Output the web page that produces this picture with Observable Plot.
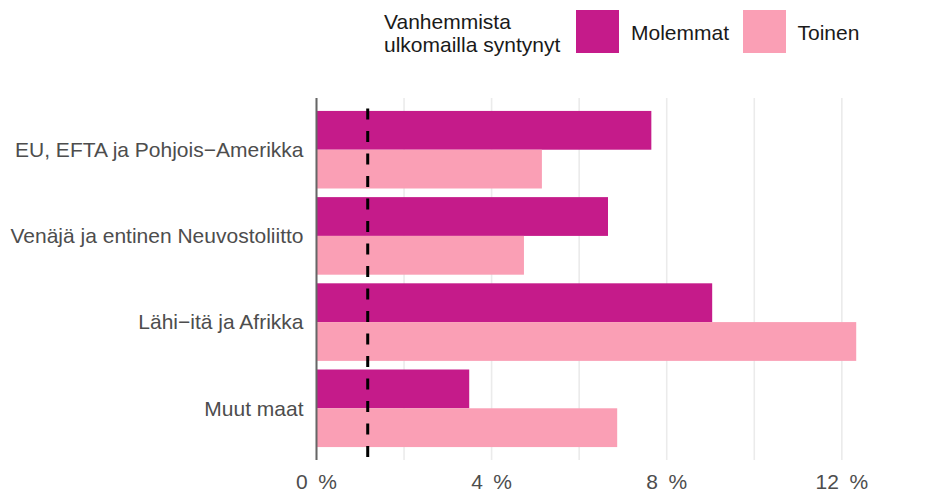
<!DOCTYPE html>
<html>
<head>
<meta charset="utf-8">
<script src="https://cdn.jsdelivr.net/npm/d3@7"></script>
<script src="https://cdn.jsdelivr.net/npm/@observablehq/plot@0.6"></script>
<style>
  body { margin: 0; background: #fff; font-family: "Liberation Sans", Arial, sans-serif; }
  #legend { position: relative; width: 927px; height: 70px; }
  #legend .title { position: absolute; left: 384px; top: 10px; font-size: 21px; line-height: 23px; color: #1a1a1a; white-space: nowrap; }
  #legend .sw { position: absolute; top: 10px; width: 43px; height: 43px; }
  #legend .lab { position: absolute; top: 20.5px; font-size: 21px; line-height: 23px; color: #1a1a1a; white-space: nowrap; }
</style>
</head>
<body>
<div id="legend"></div>
<div id="chart"></div>
<script>
const regions = ["EU, EFTA ja Pohjois−Amerikka", "Venäjä ja entinen Neuvostoliitto", "Lähi−itä ja Afrikka", "Muut maat"];
const series = ["Molemmat", "Toinen"];
const seriesColors = ["#c51b8a", "#fa9fb5"];
const molemmat = [7.66, 6.67, 9.05, 3.50];
const toinen = [5.16, 4.75, 12.34, 6.88];
const referenceValue = 1.17;
const xTicks = [0, 4, 8, 12];
const gridTicks = [0, 2, 4, 6, 8, 10, 12];
const legendTitle = ["Vanhemmista", "ulkomailla syntynyt"];

const data = regions.flatMap((r, i) => [
  {region: r, series: series[0], value: molemmat[i]},
  {region: r, series: series[1], value: toinen[i]}
]);

// Legend (HTML, above the SVG)
const legend = document.getElementById("legend");
const t = document.createElement("div");
t.className = "title";
t.innerHTML = legendTitle.join("<br>");
legend.appendChild(t);
const swLeft = [576, 743];
const labLeft = [631, 797.5];
series.forEach((s, i) => {
  const sw = document.createElement("div");
  sw.className = "sw";
  sw.style.left = swLeft[i] + "px";
  sw.style.background = seriesColors[i];
  legend.appendChild(sw);
  const lb = document.createElement("div");
  lb.className = "lab";
  lb.style.left = labLeft[i] + "px";
  lb.textContent = s;
  legend.appendChild(lb);
});

const W = 927, H = 422, mt = 28, mb = 32, ml = 316, mr = 20;
const frameH = H - mt - mb;
const pInner = 0.1, pOuter = 0.15;
const step = frameH / (regions.length - pInner + 2 * pOuter);
const half = step * (1 - pInner) / 2;

const chart = Plot.plot({
  width: W,
  height: H,
  marginTop: mt,
  marginBottom: mb,
  marginLeft: ml,
  marginRight: mr,
  style: {fontFamily: "'Liberation Sans', Arial, sans-serif", fontSize: "21px", background: "#fff", overflow: "visible"},
  x: {domain: [0, 13.5]},
  y: {domain: regions, paddingInner: pInner, paddingOuter: pOuter, round: false},
  color: {domain: series, range: seriesColors},
  marks: [
    Plot.ruleX(gridTicks, {stroke: "#ebebeb", strokeWidth: 1.6}),
    Plot.barX(data.filter(d => d.series === series[0]), {y: "region", x: "value", fill: "series", insetBottom: half}),
    Plot.barX(data.filter(d => d.series === series[1]), {y: "region", x: "value", fill: "series", insetTop: half}),
    Plot.ruleX([referenceValue], {stroke: "#000", strokeWidth: 3, strokeDasharray: "11,11.5", strokeDashoffset: 12}),
    Plot.ruleX([0], {stroke: "#666", strokeWidth: 2}),
    Plot.axisX(xTicks, {tickSize: 0, tickPadding: 14, tickFormat: d => `${d}\u2002%`, fill: "#4d4d4d", fontSize: 21, label: null}),
    Plot.axisY({tickSize: 0, tickPadding: 13, fill: "#4d4d4d", fontSize: 21, label: null})
  ]
});
document.getElementById("chart").appendChild(chart);
</script>
</body>
</html>
